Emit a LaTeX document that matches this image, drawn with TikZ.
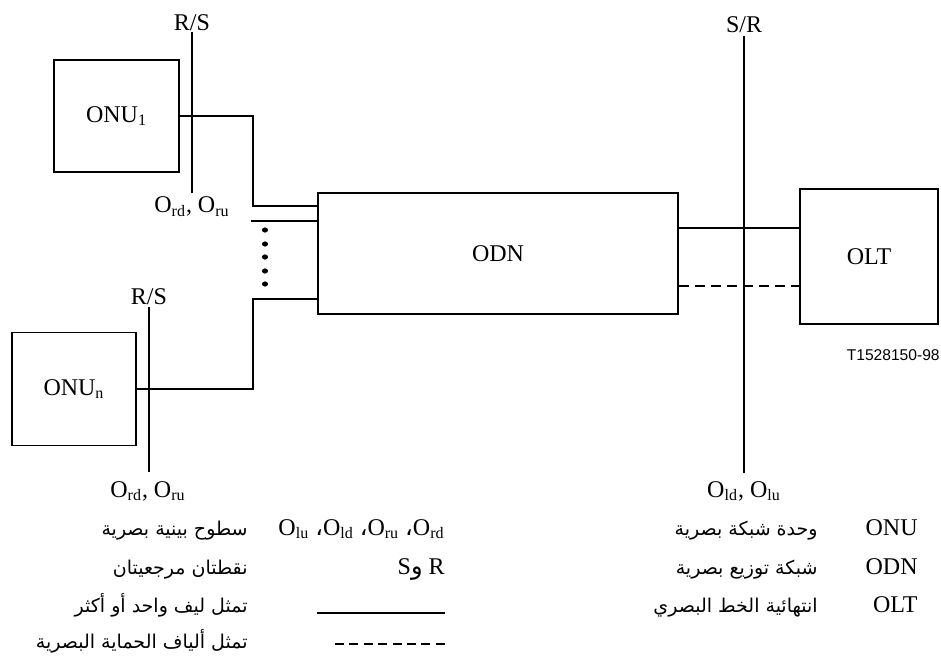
\documentclass[tikz,border=0pt]{standalone}
\usepackage{fontspec}
\setmainfont{Liberation Serif}
\setsansfont{Liberation Sans}
\newfontfamily\arabicfont[Script=Arabic]{DejaVu Sans}
\TeXXeTstate=1
\usetikzlibrary{positioning}

\begin{document}
\begin{tikzpicture}[x=0.5pt,y=-0.5pt,font=\fontsize{12}{14}\selectfont,
   unit/.style={draw,line width=0.7pt,inner sep=0pt},
   fibre/.style={line width=1.1pt},
   refline/.style={line width=1.1pt},
   lab/.style={anchor=base,inner sep=0pt},
   key/.style={anchor=base east,inner sep=0pt},
   ar/.style={anchor=base east,inner sep=0pt,font=\arabicfont\fontsize{9.5}{11}\selectfont}]
  \useasboundingbox (0,0) rectangle (941,657);
  \node[unit,minimum width=62.5pt,minimum height=56pt] (onu1) at (116.5,116) {ONU\textsubscript{1}};
  \node[unit,minimum width=62pt,minimum height=56.5pt] (onun) at (74,389) {ONU\textsubscript{n}};
  \node[unit,minimum width=180pt,minimum height=60.5pt] (odn) at (498,253.5) {ODN};
  \node[unit,minimum width=69pt,minimum height=67.5pt] (olt) at (869,256.5) {OLT};
  \coordinate (rs1t) at (192,32);  \coordinate (rs1b) at (192,193);
  \coordinate (rs2t) at (149,307); \coordinate (rs2b) at (149,472);
  \coordinate (srt) at (744,36);   \coordinate (srb) at (744,473);
  \draw[refline] (rs1t) -- (rs1b);
  \draw[refline] (rs2t) -- (rs2b);
  \draw[refline] (srt) -- (srb);
  \node[lab] (rs1lab) at (192,31) {R/S};
  \node[lab] (or1lab) at (192,213) {O\textsubscript{rd}, O\textsubscript{ru}};
  \node[lab] (rs2lab) at (149,305) {R/S};
  \node[lab] (or2lab) at (148,497) {O\textsubscript{rd}, O\textsubscript{ru}};
  \node[lab] (srlab) at (744,33) {S/R};
  \node[lab] (ollab) at (744,497) {O\textsubscript{ld}, O\textsubscript{lu}};
  \coordinate (k1) at (253,206);
  \coordinate (k2) at (251,221);
  \coordinate (k3) at (253,299);
  \coordinate (k4) at (744,228);
  \coordinate (k5) at (744,286);
  \draw[fibre] (onu1.east) -| (k1) -- (k1 -| odn.west);
  \draw[fibre] (k2) -- (k2 -| odn.west);
  \draw[fibre] (onun.east) -| (k3) -- (k3 -| odn.west);
  \draw[fibre] (k4 -| odn.east) -- (k4 -| olt.west);
  \draw[fibre,dash pattern=on 5pt off 3pt] (k5 -| odn.east) -- (k5 -| olt.west);
  \foreach \y in {230,244,257,271,284}
    \fill (265,\y) ellipse (3 and 2.6);
  \node[key,font=\sffamily\fontsize{7.8}{9}\selectfont] (fig) at (940,360) {T1528150-98};
  \node[ar] (d1) at (248,535) {\beginR سطوح بينية بصرية\endR};
  \node[ar] (d2) at (248,574) {\beginR نقطتان مرجعيتان\endR};
  \node[ar] (d3) at (248,612) {\beginR تمثل ليف واحد أو أكثر\endR};
  \node[ar] (d4) at (248,648) {\beginR تمثل ألياف الحماية البصرية\endR};
  \node[key] (t1) at (445,535) {O\textsubscript{lu} {\arabicfont ،}O\textsubscript{ld} {\arabicfont ،}O\textsubscript{ru} {\arabicfont ،}O\textsubscript{rd}};
  \node[key] (t2) at (445,574) {S{\arabicfont و} R};
  \coordinate (s1) at (317,613); \coordinate (s2) at (445,613);
  \coordinate (s3) at (335,644); \coordinate (s4) at (445,644);
  \draw[line width=0.65pt] (s1) -- (s2);
  \draw[line width=0.65pt,dash pattern=on 4.5pt off 2.7pt] (s3) -- (s4);
  \node[ar] (e1) at (818,535) {\beginR وحدة شبكة بصرية\endR};
  \node[ar] (e2) at (818,574) {\beginR شبكة  توزيع بصرية\endR};
  \node[ar] (e3) at (818,612) {\beginR انتهائية الخط البصري\endR};
  \node[key] (a1) at (918,535) {ONU};
  \node[key] (a2) at (918,574) {ODN};
  \node[key] (a3) at (918,612) {OLT};
\end{tikzpicture}
\end{document}
